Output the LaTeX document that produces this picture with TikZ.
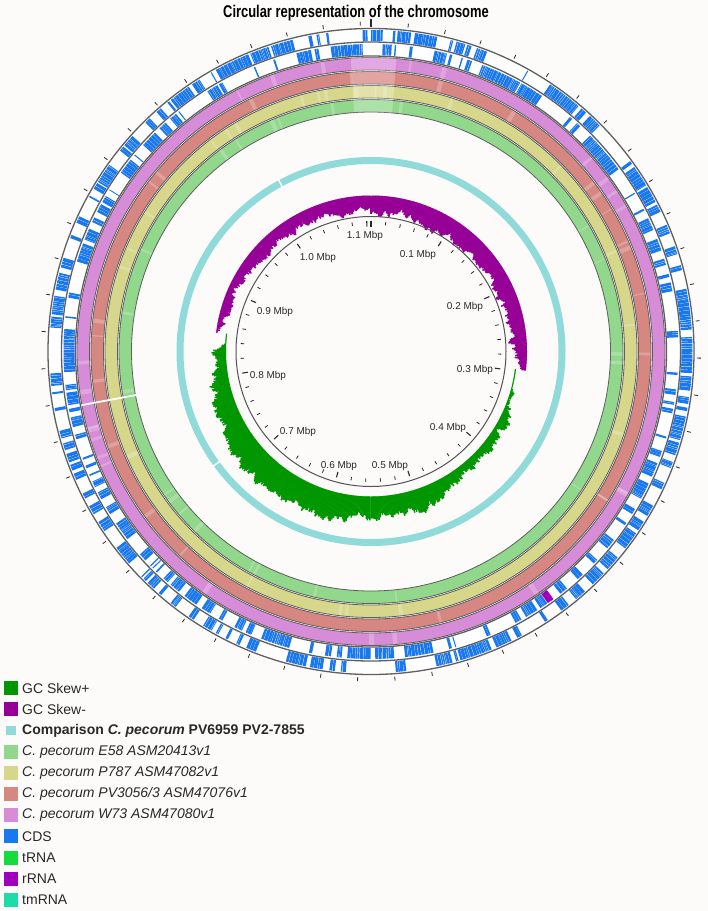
\documentclass[tikz,border=0pt]{standalone}
\usepackage{fontspec}
\setmainfont{Liberation Sans}
\usetikzlibrary{calc}
\definecolor{bg}{RGB}{252,251,250}
\definecolor{cdsblue}{RGB}{25,120,240}
\definecolor{gcp}{RGB}{0,150,0}
\definecolor{gcm}{RGB}{150,0,150}
\definecolor{cmpcyan}{RGB}{145,218,218}
\definecolor{ringE}{RGB}{145,215,140}
\definecolor{ringP}{RGB}{215,215,140}
\definecolor{ringPV}{RGB}{215,135,130}
\definecolor{ringW}{RGB}{215,140,215}
\definecolor{trna}{RGB}{20,220,60}
\definecolor{rrna}{RGB}{160,0,190}
\definecolor{tmrna}{RGB}{30,220,165}
\definecolor{ringline}{RGB}{95,95,95}
\definecolor{txt}{RGB}{40,40,40}
\tikzset{
  cds/.style={cdsblue, line width=11pt},
  scalelab/.style={font=\fontsize{10}{12}\selectfont, text=txt, inner sep=0pt},
  legsq/.style={minimum width=14pt, minimum height=14pt, inner sep=0pt, anchor=west},
  legtx/.style={anchor=west, inner sep=0pt, font=\fontsize{14}{16}\selectfont, text=txt},
}
\newcommand\myring[3]{%
  \fill[#1,even odd rule] (0,0) circle[radius=#2] (0,0) circle[radius=#3];
  \draw[ringline,line width=0.8pt] (0,0) circle[radius=#2] (0,0) circle[radius=#3];}
\newcommand\mystreaks[2]{%
  \foreach \s in {1,...,22}{%
    \pgfmathsetmacro\sa{360*rnd}%
    \pgfmathsetmacro\sw{0.2+0.8*rnd}%
    \draw[white, opacity=0.22, line width=#2pt] ({90-\sa}:#1) arc[start angle={90-\sa}, delta angle={-\sw}, radius=#1];
  }}
\begin{document}
\begin{tikzpicture}[x=1pt,y=1pt]
\fill[bg] (0,0) rectangle (708,-911);
\useasboundingbox (0,0) rectangle (708,-911);

\node[font=\bfseries\fontsize{17}{19}\selectfont, text=black, inner sep=0pt, anchor=base] (title) at (356,-17.5) {\scalebox{0.76}[1]{Circular representation of the chromosome}};

\begin{scope}[shift={(371,-351.5)}]
  % CDS ring backgrounds
  \fill[white,even odd rule] (0,0) circle[radius=323] (0,0) circle[radius=295.5];
  % CDS genes
  \pgfmathsetseed{31337}
  \xdef\gpos{0}\xdef\gstr{0}
  \foreach \k in {1,...,1100}{%
    \pgfmathsetmacro\glen{0.16+0.5*rnd}%
    \pgfmathsetmacro\ggap{0.03+0.06*rnd}%
    \pgfmathsetmacro\gsw{rnd}%
    \pgfmathsetmacro\gbig{rnd}%
    \ifdim\gsw pt<0.22pt
      \ifnum\gstr=0 \xdef\gstr{1}\else\xdef\gstr{0}\fi
    \fi
    \ifdim\gbig pt<0.02pt
      \pgfmathsetmacro\gextra{0.4+1.0*rnd}%
      \pgfmathsetmacro\gnext{\gpos+\gextra}%
      \xdef\gpos{\gnext}%
    \fi
    \ifdim\gpos pt<359.3pt
      \ifnum\gstr=0 \def\gr{316}\else\def\gr{302}\fi
      \draw[cds] ({90-\gpos}:\gr) arc[start angle={90-\gpos}, delta angle={-\glen}, radius=\gr];
    \fi
    \pgfmathsetmacro\gnext{\gpos+\glen+\ggap}%
    \xdef\gpos{\gnext}%
  }
  % rRNA block
  \draw[rrna, line width=11pt] ({90-143.6}:302) arc[start angle={90-143.6}, delta angle=-1.3, radius=302];
  % CDS ring lines
  \draw[ringline, line width=1.3pt] (0,0) circle[radius=323] (0,0) circle[radius=309.5] (0,0) circle[radius=295.5];
  % comparison rings
  \myring{ringW}{294}{281.5}
  \myring{ringPV}{280}{267.5}
  \myring{ringP}{266}{253.5}
  \myring{ringE}{252}{239.5}
  \pgfmathsetseed{99}
  \mystreaks{287.75}{11.5}
  \mystreaks{273.75}{11.5}
  \mystreaks{259.75}{11.5}
  \mystreaks{245.75}{11.5}
  \draw[white, opacity=0.25, line width=55pt] ({90+4}:267) arc[start angle={90+4}, delta angle=-9, radius=267];
  \foreach \w in {259.5}{%
    \draw[white, line width=1.8pt] ({90-\w}:239) -- ({90-\w}:294.5);}
  % comparison PV6959 ring
  \fill[cmpcyan,even odd rule] (0,0) circle[radius=194.5] (0,0) circle[radius=187.5];
  \foreach \w in {331.7, 234}{%
    \draw[white, line width=1.5pt] ({90-\w}:187) -- ({90-\w}:195);}
  % GC skew
  \pgfmathsetseed{777}
  \xdef\gcn{0}
  \foreach \k in {0,...,899}{%
    \pgfmathsetmacro\ga{\k*0.4}%
    \pgfmathsetmacro\gnn{0.8*\gcn+2.2*(rnd-0.5)}%
    \xdef\gcn{\gnn}%
    \ifdim\ga pt<97pt \def\gin{0}\else\ifdim\ga pt>277pt \def\gin{0}\else\def\gin{1}\fi\fi
    \ifnum\gin=1
      \pgfmathsetmacro\gt{(\ga-97)/180+0.0001}%
      \pgfmathsetmacro\gs{max(1, 27*(sin(180*\gt^1.6)+0.001)^0.8 + 2.5*\gnn + 1.2*(rnd-0.5))}%
      \draw[gcp, line width=1.5pt] ({90-\ga}:145) -- ({90-\ga}:{145+\gs});
    \else
      \pgfmathsetmacro\gu{mod(\ga+83,360)/180}%
      \pgfmathsetmacro\gs{max(1.5, (sin(180*\gu)+0.001)^0.25*(12+10*\gu) + 2*\gnn + 1.2*(rnd-0.5))}%
      \draw[gcm, line width=1.5pt] ({90-\ga}:156) -- ({90-\ga}:{156-\gs});
    \fi
  }
  % inner scale
  \draw[txt!80, line width=1pt] (0,0) circle[radius=135];
  \foreach \i in {0,...,55}{%
    \pgfmathsetmacro\ta{\i*0.02/1.106*360}%
    \pgfmathtruncatemacro\tm{mod(\i,5)}%
    \ifnum\tm=0
      \draw[txt, line width=1.1pt] ({90-\ta}:125) -- ({90-\ta}:130.5);
    \else
      \draw[txt, line width=0.8pt] ({90-\ta}:127) -- ({90-\ta}:130.5);
    \fi
    \ifnum\i=0
      \draw[txt, line width=2.5pt] ({90-\ta}:325) -- ({90-\ta}:333);
    \else
      \draw[txt, line width=0.8pt] ({90-\ta}:326) -- ({90-\ta}:330);
    \fi
  }
\end{scope}

% scale labels
\node[scalelab] (m01) at (418,-255) {0.1 Mbp};
\node[scalelab] (m02) at (465,-307) {0.2 Mbp};
\node[scalelab] (m03) at (475,-370) {0.3 Mbp};
\node[scalelab] (m04) at (448,-428) {0.4 Mbp};
\node[scalelab] (m05) at (390,-466) {0.5 Mbp};
\node[scalelab] (m06) at (339,-466) {0.6 Mbp};
\node[scalelab] (m07) at (298,-432) {0.7 Mbp};
\node[scalelab] (m08) at (268,-376) {0.8 Mbp};
\node[scalelab] (m09) at (275,-312) {0.9 Mbp};
\node[scalelab] (m10) at (318,-258) {1.0 Mbp};
\node[scalelab] (m11) at (365,-236) {1.1 Mbp};

% legend
\node[legsq, fill=gcp] (sq1) at (3.5,-688) {};
\node[legtx] (tx1) at (22,-688) {GC Skew+};
\node[legsq, fill=gcm] (sq2) at (3.5,-709.2) {};
\node[legtx] (tx2) at (22,-709.2) {GC Skew-};
\node[legsq, fill=cmpcyan, minimum width=10pt, minimum height=9pt] (sq3) at (5.5,-730.4) {};
\node[legtx] (tx3) at (22,-730.4) {\textbf{Comparison \textit{C. pecorum} PV6959 PV2-7855}};
\node[legsq, fill=ringE] (sq4) at (3.5,-751.6) {};
\node[legtx] (tx4) at (22,-751.6) {\textit{C. pecorum E58 ASM20413v1}};
\node[legsq, fill=ringP] (sq5) at (3.5,-772.8) {};
\node[legtx] (tx5) at (22,-772.8) {\textit{C. pecorum P787 ASM47082v1}};
\node[legsq, fill=ringPV] (sq6) at (3.5,-794) {};
\node[legtx] (tx6) at (22,-794) {\textit{C. pecorum PV3056/3 ASM47076v1}};
\node[legsq, fill=ringW] (sq7) at (3.5,-815.2) {};
\node[legtx] (tx7) at (22,-815.2) {\textit{C. pecorum W73 ASM47080v1}};
\node[legsq, fill=cdsblue] (sq8) at (3.5,-836.4) {};
\node[legtx] (tx8) at (22,-836.4) {CDS};
\node[legsq, fill=trna] (sq9) at (3.5,-857.6) {};
\node[legtx] (tx9) at (22,-857.6) {tRNA};
\node[legsq, fill=rrna] (sq10) at (3.5,-878.8) {};
\node[legtx] (tx10) at (22,-878.8) {rRNA};
\node[legsq, fill=tmrna] (sq11) at (3.5,-900) {};
\node[legtx] (tx11) at (22,-900) {tmRNA};
\end{tikzpicture}
\end{document}
